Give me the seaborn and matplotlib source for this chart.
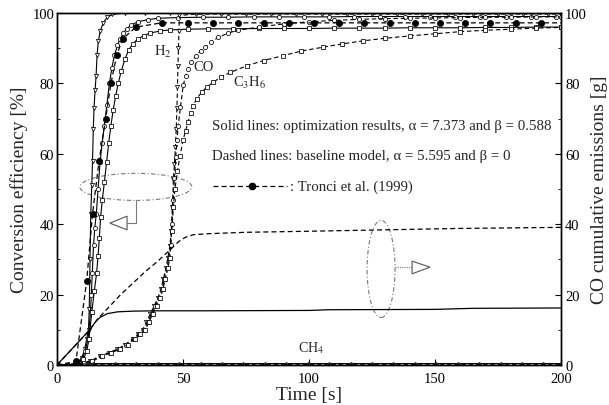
import matplotlib
matplotlib.use("Agg")
import matplotlib.pyplot as plt
import seaborn as sns
from matplotlib.patches import Ellipse, Polygon

# ---------------- data ----------------
# Solid lines: optimization results
h2_opt_t = [0, 4, 8, 9.8, 11.0, 11.8, 12.5, 12.8, 13.1, 13.4, 13.8, 14.1, 14.4, 14.7, 15.1, 15.5,
            15.9, 16.4, 17.2, 18.4, 20.0, 22.0, 27, 35, 45, 55, 65, 75, 85, 95, 105, 115, 125, 135,
            145, 155, 165, 175, 185, 195, 200]
h2_opt_y = [0, 0, 0.5, 2, 4.5, 7.5, 10, 16, 30, 43, 51, 58, 67, 73, 78, 82,
            88, 92, 95, 97.3, 98.8, 99.6, 100, 100, 100, 100, 100, 100, 100, 100, 100, 100, 100, 100,
            100, 100, 100, 100, 100, 100, 100]

co_opt_t = [0, 4, 8, 10, 11.2, 12.3, 13.3, 13.6, 14.0, 14.5, 15.0, 15.6, 16.3, 17.1, 17.9, 18.8,
            19.8, 20.8, 21.8, 22.8, 24.0, 25.0, 26.3, 27.6, 29.5, 32, 36, 40, 48, 58, 68, 78, 88,
            98, 108, 118, 128, 138, 148, 158, 168, 178, 188, 198]
co_opt_y = [0, 0, 0.3, 1.7, 4, 7.4, 15, 20, 26, 34, 39, 43, 50, 57.7, 63, 68,
            74, 80, 84.5, 88, 90.8, 92.6, 94.2, 95.5, 96.6, 97.5, 98.1, 98.5, 98.7, 98.8, 98.8, 98.9, 98.9,
            98.9, 98.9, 99, 99, 99, 99, 99, 99, 99, 99, 99]

c3h6_opt_t = [0, 4, 8, 10.5, 11.8, 12.7, 13.8, 14.8, 15.7, 16.3, 16.8, 17.3, 18.0, 18.8, 19.7,
              20.5, 21.4, 22.3, 23.3, 24.3, 25.5, 27, 28.5, 30, 32, 34.5, 37, 41, 45, 52, 60, 70,
              80, 90, 100, 110, 120, 130, 140, 150, 160, 170, 180, 190, 200]
c3h6_opt_y = [0, 0, 0.2, 1.7, 4, 7.4, 15, 21, 26, 31, 36, 42, 47, 52, 57.7,
              63, 68, 72.5, 76.5, 80, 83.5, 87, 89.5, 91.2, 92.6, 93.6, 94.3, 94.9, 95.2, 95.4, 95.5, 95.5,
              95.6, 95.6, 95.6, 95.7, 95.7, 95.7, 95.8, 95.8, 95.8, 95.9, 95.9, 96, 96]

# Dashed lines: baseline model
h2_base_t = [0, 8, 13, 17, 20.5, 24, 27, 30, 32, 34, 35.5, 37, 38.5, 40, 41.2, 42.2, 43.2, 44.0,
             44.8, 45.3, 45.8, 46.2, 46.6, 47.0, 47.3, 47.6, 47.8, 48.0, 48.2, 48.4, 48.6, 55, 65,
             75, 85, 95, 105, 115, 125, 135, 145, 155, 165, 175, 185, 195, 200]
h2_base_y = [0, 0.3, 1, 2.6, 3.5, 4.5, 5.8, 7.4, 8.7, 10, 12.2, 14.5, 16.7, 19, 21.5, 24.4, 27.5, 30.5,
             33.9, 38, 45, 52.8, 57, 62, 67, 73, 79, 85, 90, 95, 99.3, 99.7, 99.7,
             99.7, 99.7, 99.7, 99.7, 99.7, 99.7, 99.7, 99.7, 99.7, 99.7, 99.7, 99.7, 99.7, 99.7]

co_base_t = [0, 8, 13.5, 17.5, 21, 24.5, 27.5, 30.5, 32.5, 34.5, 36, 37.5, 39, 40.5, 41.6, 42.6,
             43.6, 44.4, 45.1, 45.6, 46.1, 46.6, 47.1, 47.6, 48.1, 49.0, 50.1, 51.0, 52.1, 53.3, 55,
             57, 58.7, 61.3, 64, 68, 72, 80, 90, 100, 110, 120, 130, 140, 150, 160, 170, 180, 190, 200]
co_base_y = [0, 0.3, 1, 2.6, 3.5, 4.5, 5.8, 7.4, 8.7, 10, 12.2, 14.5, 16.7, 19, 21.5, 24.4,
             27.5, 30.5, 34, 40, 47, 53, 59, 64, 68, 73.3, 79.5, 82, 84.2, 86, 87.8,
             89.3, 90.2, 91.8, 93.1, 94.3, 95.1, 96, 96.9, 97.5, 97.9, 98.2, 98.4, 98.5, 98.6, 98.7, 98.8, 98.8, 98.9, 98.9]

c3h6_base_t = [0, 8, 14, 18, 21.5, 25, 28, 31, 33, 35, 36.5, 38, 39.5, 41, 42, 43, 44, 44.8,
               45.5, 46.2, 46.8, 47.8, 48.8, 50.1, 51, 52, 53, 54, 55.5, 57.4, 59.5, 62, 65, 68.7,
               75.3, 82, 89.8, 97, 105.7, 113, 121.5, 130, 140, 150, 160, 170, 180, 190, 200]
c3h6_base_y = [0, 0.3, 1, 2.6, 3.5, 4.5, 5.8, 7.4, 8.7, 10, 12.2, 14.5, 16.7, 19, 21.5, 24.4, 27.5, 30.5,
               38, 45, 50, 55, 59.5, 64, 66.5, 69, 71.5, 73.7, 75.7, 77.5, 79, 80.3, 81.8, 83.1,
               85, 86.5, 87.9, 89.2, 90.3, 91.2, 92.1, 92.8, 93.5, 94.1, 94.7, 95.1, 95.4, 95.7, 95.9]

# Tronci et al. (1999)
tronci_t = [0, 7.5, 11.8, 14.1, 16.7, 19.3, 21.4, 23.7, 26.0, 31.3, 41.5, 52, 62, 72, 82, 92,
            102, 112, 122, 132, 142, 152, 162, 172, 182, 192]
tronci_y = [0, 1, 24, 43, 58, 70, 80, 88, 92.6, 96, 97.2, 97.2, 97.2, 97.2, 97.2, 97.2,
            97.2, 97.2, 97.2, 97.2, 97.2, 97.2, 97.2, 97.2, 97.2, 97.2]

# CH4 (solid and dashed, near zero)
ch4_t = [0, 14.4, 23, 31.5, 40, 48.5, 57, 65.5, 74, 82.5, 91, 99.5, 108, 116.5, 125, 133.5,
         142, 150.5, 159, 167.5, 176, 184.5, 193, 200]
ch4_opt_y = [0, 0.4, 0.4, 0.4, 0.4, 0.4, 0.4, 0.4, 0.4, 0.4, 0.4, 0.4, 0.4, 0.4, 0.4, 0.4,
             0.4, 0.4, 0.4, 0.4, 0.4, 0.4, 0.4, 0.4]
ch4_base_y = [0, 0.2, 0.2, 0.2, 0.2, 0.2, 0.2, 0.2, 0.2, 0.2, 0.2, 0.2, 0.2, 0.2, 0.2, 0.2,
              0.2, 0.2, 0.2, 0.2, 0.2, 0.2, 0.2, 0.2]

# CO cumulative emissions [g] (right axis)
cum_opt_t = [0, 13, 15, 17, 20, 24, 30, 40, 60, 100, 108, 150, 165, 200]
cum_opt_y = [0, 10, 12, 13.5, 14.6, 15.1, 15.3, 15.4, 15.4, 15.5, 15.7, 15.8, 16.1, 16.2]
cum_base_t = [0, 13, 16, 20, 25, 29, 35, 40, 45, 48.5, 51, 54, 60, 75, 100, 130, 160, 200]
cum_base_y = [0, 10, 13, 16, 19.8, 22.5, 26.5, 29.5, 32.8, 35.2, 36.3, 37, 37.3, 37.7, 38, 38.4, 38.8, 39.1]

x_ticks = [0, 50, 100, 150, 200]
y_ticks = [0, 20, 40, 60, 80, 100]

# ---------------- styling ----------------
sns.set_style("ticks")
plt.rcParams["font.family"] = ["Liberation Serif", "DejaVu Serif"]
plt.rcParams["mathtext.fontset"] = "stix"

fig = plt.figure(figsize=(6.09, 4.06), dpi=100)
ax = fig.add_axes([57 / 609, 1 - 366 / 406, (561 - 57) / 609, (366 - 14) / 406])

DASH = (0, (4, 2.5))
common = dict(ax=ax, estimator=None, sort=False, color="black", legend=False)

def mk(marker, ms=3.0, fc="white"):
    return dict(marker=marker, markersize=ms, markerfacecolor=fc,
                markeredgecolor="black", markeredgewidth=0.55)

# solid (optimization)
sns.lineplot(x=h2_opt_t, y=h2_opt_y, lw=0.8, ls="-", **mk("v"), **common)
sns.lineplot(x=co_opt_t, y=co_opt_y, lw=0.8, ls="-", **mk("o"), **common)
sns.lineplot(x=c3h6_opt_t, y=c3h6_opt_y, lw=0.8, ls="-", **mk("s", 2.7), **common)
# dashed (baseline)
sns.lineplot(x=h2_base_t, y=h2_base_y, lw=0.8, ls=DASH, **mk("v"), **common)
sns.lineplot(x=co_base_t, y=co_base_y, lw=0.8, ls=DASH, **mk("o"), **common)
sns.lineplot(x=c3h6_base_t, y=c3h6_base_y, lw=0.8, ls=DASH, **mk("s", 2.7), **common)
# Tronci
sns.lineplot(x=tronci_t + [200], y=tronci_y + [tronci_y[-1]], lw=0.9, ls=DASH, **common)
sns.scatterplot(x=tronci_t, y=tronci_y, ax=ax, color="black", s=20, marker="o",
                edgecolor="black", linewidth=0.5, legend=False, zorder=5)
# CH4
sns.lineplot(x=ch4_t, y=ch4_opt_y, lw=0.8, ls="-", **mk("o", 2.4), **common)
sns.lineplot(x=ch4_t, y=ch4_base_y, lw=0.8, ls=DASH, **mk("+", 2.8), **common)

ax.set_xlim(0, 200)
ax.set_ylim(0, 100)
ax.set_xticks(x_ticks)
ax.set_yticks(y_ticks)
ax.set_yticks(range(0, 101, 10), minor=True)
ax.tick_params(direction="in", length=4, width=0.8, labelsize=10.5, colors="black", pad=2)
ax.tick_params(which="minor", direction="in", length=2.5, width=0.7)
ax.tick_params(axis="x", pad=5)
for sp in ax.spines.values():
    sp.set_visible(True)
    sp.set_linewidth(1.0)
    sp.set_color("black")
ax.set_xlabel("Time [s]", fontsize=14, labelpad=1)
ax.set_ylabel("Conversion efficiency [%]", fontsize=14, labelpad=3)

# right axis: CO cumulative emissions
ax2 = ax.twinx()
sns.lineplot(x=cum_opt_t, y=cum_opt_y, ax=ax2, estimator=None, sort=False, color="black",
             lw=0.9, ls="-", legend=False)
sns.lineplot(x=cum_base_t, y=cum_base_y, ax=ax2, estimator=None, sort=False, color="black",
             lw=0.9, ls=DASH, legend=False)
ax2.set_ylim(0, 100)
ax2.set_yticks(y_ticks)
ax2.set_yticks(range(0, 101, 10), minor=True)
ax2.tick_params(direction="in", length=4, width=0.8, labelsize=10.5, colors="black", pad=3)
ax2.tick_params(which="minor", direction="in", length=2.5, width=0.7)
ax2.set_ylabel("CO cumulative emissions [g]", fontsize=14, labelpad=3)
for sp in ax2.spines.values():
    sp.set_linewidth(1.0)
    sp.set_color("black")

# ---------------- annotations ----------------
ax.text(42.1, 89.2, "H$_2$", fontsize=10.5, ha="center", va="center")
ax.text(58.3, 84.7, "CO", fontsize=10.5, ha="center", va="center")
ax.text(69.8, 80.4, "C$_3$H$_6$", fontsize=10.5, ha="left", va="center")
ax.text(100.8, 5.1, "CH$_4$", fontsize=10, ha="center", va="center")

ax.text(61.5, 67.9, "Solid lines: optimization results, \u03b1 = 7.373 and \u03b2 = 0.588",
        fontsize=10.7, ha="left", va="center")
ax.text(61.5, 59.4, "Dashed lines: baseline model, \u03b1 = 5.595 and \u03b2 = 0",
        fontsize=10.7, ha="left", va="center")
ax.plot([61.9, 91.3], [50.9, 50.9], color="black", lw=0.9, ls=DASH)
ax.plot([77.5], [50.9], "o", color="black", ms=4.5)
ax.text(92.5, 50.9, ": Tronci et al. (1999)", fontsize=10.7, ha="left", va="center")

# ellipse + arrow (left axis)
grey = "#7a7a7a"
ax.add_patch(Ellipse((31.3, 50.6), 44.4, 7.7, fill=False, ec=grey, lw=0.8, ls=(0, (4, 2, 1, 2))))
ax.plot([31.3, 31.3, 27.8], [46.6, 40.3, 40.3], color=grey, lw=0.8)
ax.add_patch(Polygon([(21.0, 40.3), (27.8, 42.3), (27.8, 38.4)], closed=True, fill=False,
                     ec="#555555", lw=0.8))
# ellipse + arrow (right axis)
ax.add_patch(Ellipse((128.6, 27.3), 11.1, 27.6, fill=False, ec=grey, lw=0.8, ls=(0, (4, 2, 1, 2))))
ax.plot([134.1, 140.9], [27.8, 27.8], color=grey, lw=0.8, ls=(0, (1, 1)))
ax.add_patch(Polygon([(148.0, 27.8), (140.9, 29.5), (140.9, 25.9)], closed=True, fill=False,
                     ec="#555555", lw=0.8))

fig.savefig("out.png", dpi=100)
